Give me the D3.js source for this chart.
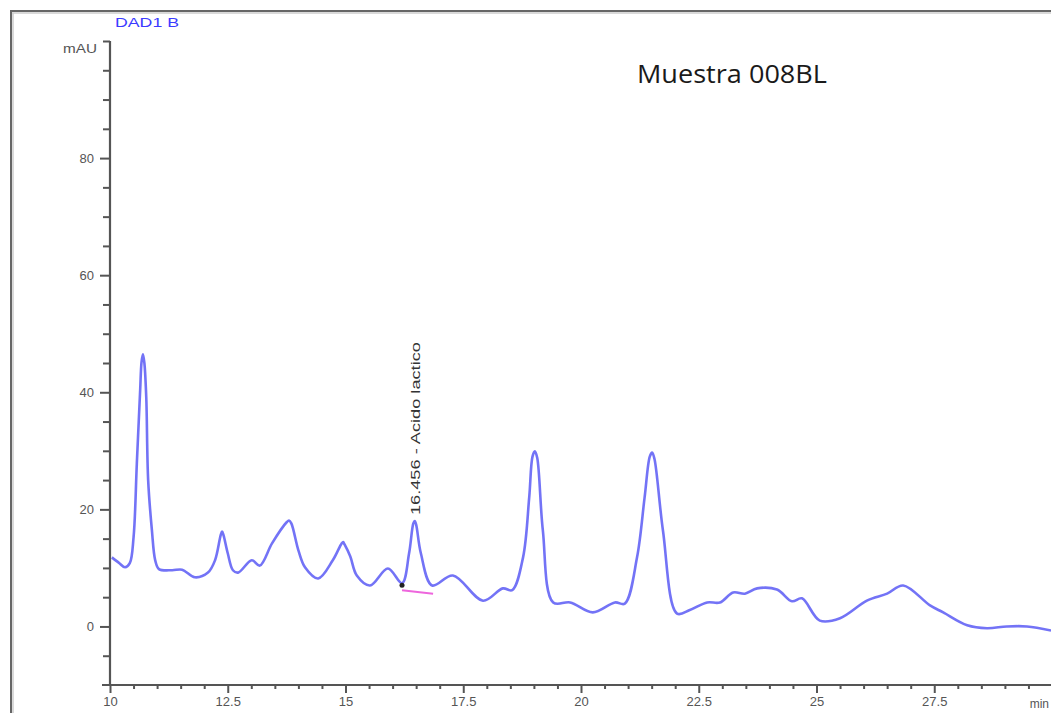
<!DOCTYPE html>
<html>
<head>
<meta charset="utf-8">
<script src="https://cdn.jsdelivr.net/npm/d3@7"></script>
<style>
  html, body { margin: 0; padding: 0; background: #fff; }
  svg { display: block; }
</style>
</head>
<body>
<svg id="chart" width="1051" height="713"></svg>
<script>
// ---- data ----
const chartTitle = "Muestra 008BL";
const signalName = "DAD1 B";
const yUnit = "mAU";
const xUnit = "min";
const xMajorTicks = [10, 12.5, 15, 17.5, 20, 22.5, 25, 27.5];
const xTickLabels = ["10", "12.5", "15", "17.5", "20", "22.5", "25", "27.5"];
const yMajorTicks = [0, 20, 40, 60, 80];
const yTickLabels = ["0", "20", "40", "60", "80"];
const peakLabel = "16.456 - Acido lactico";
const peakTime = 16.47;
const peakHeight = 18.0;
const baselineTimes = [16.20, 16.86];
const baselineValues = [6.2, 5.6];

const times = [10.04, 10.20, 10.32, 10.42, 10.50, 10.57, 10.64, 10.67, 10.70, 10.73, 10.77, 10.81, 10.89, 10.96, 11.04,
  11.32, 11.53, 11.80, 12.08, 12.23, 12.35, 12.38, 12.41, 12.50, 12.61, 12.72, 13.01, 13.18, 13.44, 13.75, 13.80, 13.85, 14.00,
  14.14, 14.42, 14.73, 14.92, 14.95, 14.98, 15.10, 15.24, 15.52, 15.90, 16.20, 16.35, 16.44, 16.47, 16.50, 16.60, 16.84, 17.28,
  17.92, 18.34, 18.54, 18.77, 18.90, 18.97, 19.02, 19.07, 19.19, 19.41, 19.77, 20.25, 20.72, 20.93, 21.19, 21.35,
  21.46, 21.51, 21.56, 21.74, 22.04, 22.31, 22.68, 22.95, 23.23, 23.48, 23.74, 24.16, 24.48, 24.69, 25.07, 25.50,
  26.07, 26.50, 26.84, 27.41, 27.69, 28.20, 28.62, 29.04, 29.47, 29.98];
const absorbance = [11.8, 10.8, 10.1, 10.8, 15.2, 27.9, 40.3, 45.2, 46.5, 45.0, 39.1, 25.0, 16.4, 11.3, 9.8,
  9.6, 9.7, 8.4, 9.2, 11.3, 15.6, 16.2, 15.6, 12.5, 9.6, 9.2, 11.3, 10.4, 14.2, 17.8, 18.1, 17.6, 13.0,
  10.1, 8.2, 11.3, 14.2, 14.4, 14.0, 12.0, 8.7, 7.0, 9.9, 7.4, 12.5, 17.6, 18.0, 17.4, 12.5, 7.0, 8.7,
  4.4, 6.5, 6.2, 11.8, 22.0, 29.0, 29.9, 28.8, 16.4, 4.1, 4.1, 2.4, 4.1, 3.9, 11.8, 22.0,
  29.0, 29.7, 28.6, 16.4, 2.2, 2.8, 4.1, 4.1, 5.8, 5.6, 6.5, 6.3, 4.3, 4.8, 1.0, 1.4,
  4.4, 5.6, 7.0, 3.6, 2.4, 0.2, -0.3, 0.0, 0.0, -0.7];

// ---- layout ----
const svg = d3.select("#chart");
const x = d3.scaleLinear().domain([10, 30]).range([110, 1052]);
const y = d3.scaleLinear().domain([-10, 100]).range([685, 41]);
const axisColor = "#555";
const labelFont = "Liberation Sans, Arial, sans-serif";

// outer frame
svg.append("line").attr("x1", 11).attr("y1", 11).attr("x2", 1051).attr("y2", 11)
  .attr("stroke", "#666").attr("stroke-width", 2);
svg.append("line").attr("x1", 11).attr("y1", 13).attr("x2", 1051).attr("y2", 13)
  .attr("stroke", "#ccc").attr("stroke-width", 1.5);
svg.append("line").attr("x1", 11).attr("y1", 10).attr("x2", 11).attr("y2", 713)
  .attr("stroke", "#666").attr("stroke-width", 2);
svg.append("line").attr("x1", 13).attr("y1", 13).attr("x2", 13).attr("y2", 713)
  .attr("stroke", "#ccc").attr("stroke-width", 1.5);

// y axis
const yMinor = d3.range(-5, 101, 5).filter(v => !yMajorTicks.includes(v));
const yAxisMajor = d3.axisLeft(y).tickValues(yMajorTicks)
  .tickFormat((d, i) => yTickLabels[i]).tickSize(10).tickPadding(6);
const yAxisMinor = d3.axisLeft(y).tickValues(yMinor).tickFormat("").tickSize(7);
const gy = svg.append("g").attr("transform", "translate(110,0)");
gy.call(yAxisMinor);
gy.append("g").call(yAxisMajor);
gy.selectAll(".domain").remove();
gy.selectAll("line").attr("stroke", axisColor).attr("stroke-width", 2);
gy.selectAll("text").attr("fill", "#555").attr("font-family", labelFont)
  .attr("font-size", 13);
svg.append("line").attr("x1", 110).attr("x2", 110).attr("y1", y(100)).attr("y2", y(-10) + 1)
  .attr("stroke", axisColor).attr("stroke-width", 2.2);

// x axis
const xMinor = d3.range(10, 30.01, 0.5).filter(v => !xMajorTicks.includes(v));
const xAxisMajor = d3.axisBottom(x).tickValues(xMajorTicks)
  .tickFormat((d, i) => xTickLabels[i]).tickSize(8).tickPadding(4);
const xAxisMinor = d3.axisBottom(x).tickValues(xMinor).tickFormat("").tickSize(4);
const gx = svg.append("g").attr("transform", "translate(0,685)");
gx.call(xAxisMinor);
gx.append("g").call(xAxisMajor);
gx.selectAll(".domain").remove();
gx.selectAll("line").attr("stroke", axisColor).attr("stroke-width", 2);
gx.selectAll("text").attr("fill", "#555").attr("font-family", labelFont)
  .attr("font-size", 13);
svg.append("line").attr("x1", 102).attr("x2", 1051).attr("y1", 685).attr("y2", 685)
  .attr("stroke", axisColor).attr("stroke-width", 2.2);
svg.append("text").attr("x", 1049).attr("y", 708).attr("text-anchor", "end").text(xUnit)
  .attr("fill", "#555").attr("font-family", labelFont).attr("font-size", 12);

// unit and signal labels
svg.append("text").attr("x", 97).attr("y", 53).attr("text-anchor", "end").text(yUnit)
  .attr("fill", "#555").attr("font-family", labelFont).attr("font-size", 12)
  .attr("textLength", 34).attr("lengthAdjust", "spacingAndGlyphs");
svg.append("text").attr("x", 115).attr("y", 27).text(signalName)
  .attr("fill", "#3b3bff").attr("font-family", labelFont).attr("font-size", 12)
  .attr("textLength", 64).attr("lengthAdjust", "spacingAndGlyphs");

// title
svg.append("text").attr("x", 637).attr("y", 83).text(chartTitle)
  .attr("fill", "#1a1a1a").attr("font-family", "Open Sans, sans-serif").attr("font-size", 25)
  .attr("textLength", 190).attr("lengthAdjust", "spacingAndGlyphs");

// chromatogram trace
const pts = times.map((t, i) => [t, absorbance[i]]);
const line = d3.line().x(d => x(d[0])).y(d => y(d[1])).curve(d3.curveCatmullRom.alpha(0.5));
svg.append("path").datum(pts).attr("d", line)
  .attr("fill", "none").attr("stroke", "#5a5af5").attr("stroke-opacity", 0.85)
  .attr("stroke-width", 2.6).attr("stroke-linejoin", "round");

// integration baseline
svg.append("line")
  .attr("x1", x(baselineTimes[0])).attr("y1", y(baselineValues[0]))
  .attr("x2", x(baselineTimes[1])).attr("y2", y(baselineValues[1]))
  .attr("stroke", "#ee66dd").attr("stroke-width", 2);
svg.append("circle").attr("cx", x(baselineTimes[0])).attr("cy", y(baselineValues[0]) - 5).attr("r", 2.5)
  .attr("fill", "#222");

// peak annotation (rotated)
const lx = x(peakTime) + 5, ly = y(peakHeight) - 6;
svg.append("text").attr("transform", `translate(${lx},${ly}) rotate(-90)`)
  .text(peakLabel).attr("fill", "#333")
  .attr("font-family", labelFont).attr("font-size", 13)
  .attr("textLength", 173).attr("lengthAdjust", "spacingAndGlyphs");
</script>
</body>
</html>
